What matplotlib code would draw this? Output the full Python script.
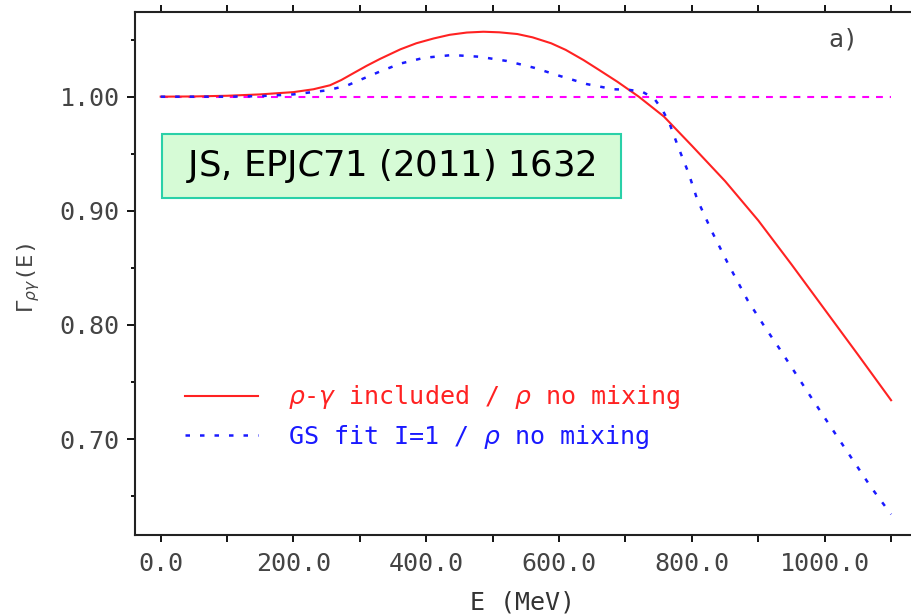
import numpy as np
import matplotlib
matplotlib.use('Agg')
import matplotlib.pyplot as plt
from matplotlib.ticker import MultipleLocator, FormatStrFormatter
from matplotlib.patches import Rectangle

plt.rcParams['font.family'] = ['DejaVu Sans Mono', 'DejaVu Sans']
plt.rcParams['mathtext.fontset'] = 'dejavusans'

# rho-gamma mixing included, relative to rho without mixing
energy_red = [0, 50, 100, 150, 200, 230, 255, 272, 290, 310, 330, 361, 385, 411,
              435, 461, 486, 510, 537, 560, 588, 610, 637, 660, 688, 720, 758,
              800, 850, 900, 950, 1000, 1050, 1100]
ratio_red = [1.000, 1.0002, 1.0008, 1.002, 1.0040, 1.0065, 1.010, 1.0146, 1.0205,
             1.027, 1.033, 1.0415, 1.0468, 1.051, 1.0542, 1.0562, 1.0569, 1.0564,
             1.0549, 1.052, 1.0468, 1.041, 1.032, 1.0235, 1.013, 1.000, 0.9825,
             0.957, 0.926, 0.8915, 0.853, 0.8135, 0.774, 0.734]

# GS fit I=1, relative to rho without mixing
energy_blue = [0, 100, 150, 200, 250, 280, 300, 330, 361, 396, 439, 480, 521, 562,
               602, 642, 682, 705, 725, 743, 756, 766, 780, 795, 808, 830, 855,
               884, 910, 931, 976, 1023, 1070, 1100]
ratio_blue = [1.000, 1.000, 1.0005, 1.002, 1.0055, 1.0096, 1.0146, 1.022, 1.029,
              1.034, 1.0365, 1.035, 1.0313, 1.0254, 1.018, 1.011, 1.0065, 1.006,
              1.0044, 0.9986, 0.988, 0.977, 0.955, 0.933, 0.910, 0.882, 0.853,
              0.8215, 0.798, 0.780, 0.7397, 0.6985, 0.6576, 0.634]

# reference line at unity
energy_flat = [0, 1100]
ratio_flat = [1.0, 1.0]

label_red = r'$\rho$-$\gamma$ included / $\rho$ no mixing'
label_blue = r'GS fit I=1 / $\rho$ no mixing'
ref_text = r'JS, EPJ$\mathit{C}$71 (2011) 1632'

W, H = 912, 616
fig = plt.figure(figsize=(W / 100, H / 100), dpi=100)
ax = fig.add_axes([135 / W, 81 / H, 779 / W, 523 / H])

ax.plot(energy_flat, ratio_flat, color='#ff00ff', lw=1.5, dashes=(3.3, 3.3))
red_line, = ax.plot(energy_red, ratio_red, color='#ff2222', lw=1.5, label=label_red)
blue_line, = ax.plot(energy_blue, ratio_blue, color='#1a1aff', lw=1.8,
                     dashes=(1.8, 4.0), label=label_blue)

ax.set_xlim(-38.7, 1134.5)
ax.set_ylim(0.6159, 1.0742)

ax.xaxis.set_major_locator(MultipleLocator(200))
ax.xaxis.set_minor_locator(MultipleLocator(100))
ax.xaxis.set_major_formatter(FormatStrFormatter('%.1f'))
ax.yaxis.set_major_locator(MultipleLocator(0.1))
ax.yaxis.set_minor_locator(MultipleLocator(0.05))
ax.yaxis.set_major_formatter(FormatStrFormatter('%.2f'))

ax.tick_params(axis='x', which='both', direction='out', top=True, length=5,
               width=1.3, labelsize=18, pad=7, labelcolor='#444444')
ax.tick_params(axis='y', which='major', direction='out', right=False, length=6,
               width=1.3, labelsize=18, pad=5, labelcolor='#444444')
ax.tick_params(axis='y', which='minor', direction='out', right=False, length=3,
               width=1.3)

for side in ['left', 'bottom', 'top']:
    ax.spines[side].set_linewidth(1.5)
    ax.spines[side].set_color('#222222')
ax.spines['right'].set_visible(False)

ax.set_xlabel('E (MeV)', fontsize=18, color='#333333')
ax.xaxis.set_label_coords(0.498, -0.106)
ax.set_ylabel(r'$\Gamma_{\rho\gamma}$(E)', fontsize=16, color='#444444')
ax.yaxis.set_label_coords(-0.119, 0.492)

ax.legend(handles=[red_line, blue_line], loc='center left',
          bbox_to_anchor=(0.0642, 0.2256), frameon=False, borderpad=0,
          borderaxespad=0, handlelength=2.9, handletextpad=1.2,
          labelspacing=0.45, fontsize=18, labelcolor='linecolor')

ax.text(0.909, 0.948, 'a)', transform=ax.transAxes, fontsize=18,
        color='#444444', ha='center', va='center')

# citation box
fig.patches.append(Rectangle((161.7 / W, 1 - 197.7 / H), 459 / W, 64 / H,
                             transform=fig.transFigure, facecolor='#d6fbd6',
                             edgecolor='#2ad0a8', linewidth=1.5, zorder=5))
fig.text(391 / W, 1 - 166 / H, ref_text, ha='center', va='center',
         fontsize=25.5, family='DejaVu Sans', color='black', zorder=6)

fig.savefig('out.png', dpi=100)
